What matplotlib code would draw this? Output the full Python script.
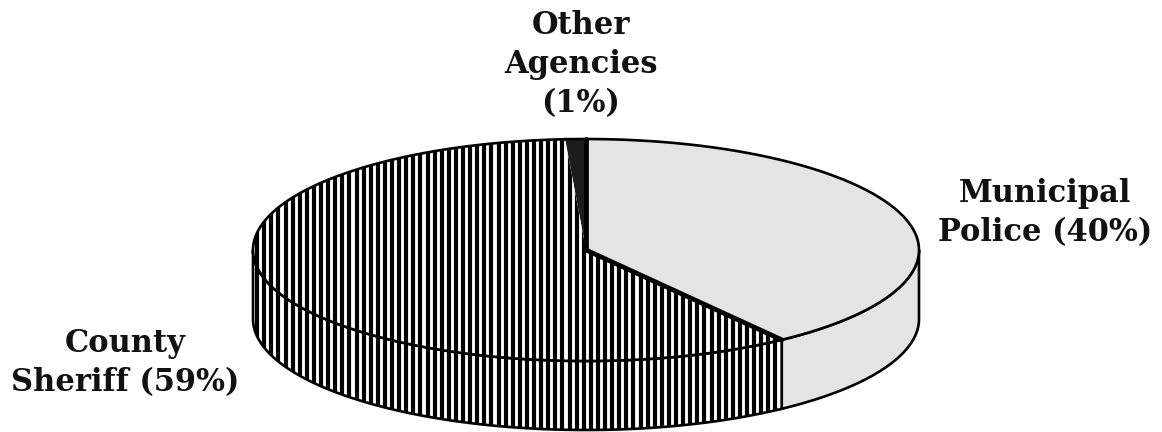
import numpy as np
import matplotlib
matplotlib.use('Agg')
import matplotlib.pyplot as plt
from matplotlib.patches import Polygon
from matplotlib.collections import LineCollection

# data
categories = ['Municipal Police', 'Other Agencies', 'County Sheriff']
shares = [40, 1, 59]
label_text = ['Municipal\nPolice (40%)', 'Other\nAgencies\n(1%)', 'County\nSheriff (59%)']

# 3d pie geometry (pixel coords, y down)
cx, cy = 586, 250
a, b = 333, 111
depth = 69

fig = plt.figure(figsize=(11.62, 4.32), dpi=100)
ax = fig.add_axes([0, 0, 1, 1])
ax.set_xlim(0, 1162)
ax.set_ylim(432, 0)
ax.axis('off')


def rim(t0, t1, dz=0, n=200):
    t = np.radians(np.linspace(t0, t1, n))
    return np.column_stack([cx + a * np.cos(t), cy - b * np.sin(t) + dz])


def stripes(patch, z):
    # vertical black stripes, clipped to the slice
    xs = np.arange(250, 925, 7.1)
    segs = [[(x, 0), (x, 432)] for x in xs]
    lc = LineCollection(segs, colors='black', linewidths=3.0, zorder=z)
    ax.add_collection(lc)
    lc.set_clip_path(patch)


# angles: municipal runs clockwise from 12 o'clock, the rest counterclockwise
start = 90 - shares[0] * 3.6
edges = start + np.concatenate([[0], np.cumsum(shares)]) * 3.6
faces = ['#e4e4e4', '#1c1c1c', 'white']

# side walls (only the front half shows)
for i, cat in enumerate(categories):
    t0, t1 = edges[i], edges[i + 1]
    for k in (-360, 0, 360):
        lo, hi = max(t0 + k, 180), min(t1 + k, 360)
        if hi <= lo:
            continue
        pts = np.vstack([rim(lo, hi), rim(hi, lo, depth)])
        p = Polygon(pts, closed=True, facecolor=faces[i], edgecolor='black',
                    linewidth=1.9, zorder=1)
        ax.add_patch(p)
        if cat == 'County Sheriff':
            stripes(p, 2)

# top faces
for i, cat in enumerate(categories):
    t0, t1 = edges[i], edges[i + 1]
    pts = np.vstack([[cx, cy], rim(t0, t1)])
    p = Polygon(pts, closed=True, facecolor=faces[i], edgecolor='none', zorder=3)
    ax.add_patch(p)
    if cat == 'County Sheriff':
        stripes(p, 4)
    ax.plot(*rim(t0, t1).T, color='black', lw=1.9, zorder=5)

# radial edges
for t in edges[:2]:
    e = rim(t, t, n=1)[0]
    ax.plot([cx, e[0]], [cy, e[1]], color='black', lw=3.4, zorder=5,
            solid_capstyle='round')

font = dict(family='DejaVu Serif', fontweight='bold', fontsize=22,
            ha='center', va='top', linespacing=1.34, color='#111111')
ax.text(1045, 178, label_text[0], **font)
ax.text(581, 10, label_text[1], **font)
ax.text(125, 328, label_text[2], **font)

fig.savefig('out.png', dpi=100)
